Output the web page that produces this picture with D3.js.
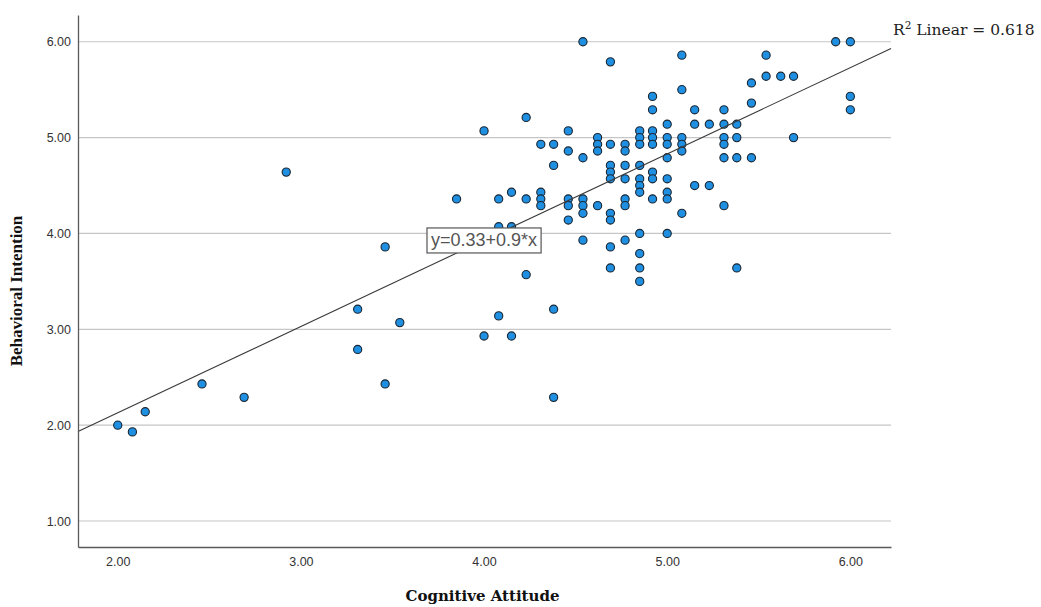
<!DOCTYPE html>
<html lang="en">
<head>
<meta charset="utf-8">
<title>Cognitive Attitude vs Behavioral Intention</title>
<script src="https://cdn.jsdelivr.net/npm/d3@7"></script>
<style>
  body { margin: 0; background: #fff; }
  .tick-label { font-family: "Liberation Sans", Arial, sans-serif; font-size: 12.5px; fill: #333; }
  .axis-title { font-weight: bold; fill: #111; }
</style>
</head>
<body>
<div id="chart"></div>
<script>

  // Cognitive Attitude (x) and Behavioral Intention (y), one entry per respondent
  var attitude = [
    2.00, 2.08, 2.15, 2.46, 2.69, 2.92,
    3.31, 3.31, 3.46, 3.46, 3.54, 3.85,
    4.00, 4.00,
    4.08, 4.08, 4.08,
    4.15, 4.15, 4.15,
    4.23, 4.23, 4.23,
    4.31, 4.31, 4.31, 4.31,
    4.38, 4.38, 4.38, 4.38,
    4.46, 4.46, 4.46, 4.46, 4.46,
    4.54, 4.54, 4.54, 4.54, 4.54, 4.54,
    4.62, 4.62, 4.62, 4.62,
    4.69, 4.69, 4.69, 4.69, 4.69, 4.69, 4.69, 4.69, 4.69,
    4.77, 4.77, 4.77, 4.77, 4.77, 4.77, 4.77,
    4.85, 4.85, 4.85, 4.85, 4.85, 4.85, 4.85, 4.85, 4.85, 4.85, 4.85,
    4.92, 4.92, 4.92, 4.92, 4.92, 4.92, 4.92, 4.92,
    5.00, 5.00, 5.00, 5.00, 5.00, 5.00, 5.00, 5.00,
    5.08, 5.08, 5.08, 5.08, 5.08, 5.08,
    5.15, 5.15, 5.15,
    5.23, 5.23,
    5.31, 5.31, 5.31, 5.31, 5.31, 5.31,
    5.38, 5.38, 5.38, 5.38,
    5.46, 5.46, 5.46,
    5.54, 5.54,
    5.62,
    5.69, 5.69,
    5.92,
    6.00, 6.00, 6.00
  ];

  var intention = [
    2.00, 1.93, 2.14, 2.43, 2.29, 4.64,
    3.21, 2.79, 3.86, 2.43, 3.07, 4.36,
    5.07, 2.93,
    4.36, 4.07, 3.14,
    4.43, 4.07, 2.93,
    5.21, 4.36, 3.57,
    4.93, 4.43, 4.36, 4.29,
    4.93, 4.71, 3.21, 2.29,
    5.07, 4.86, 4.36, 4.29, 4.14,
    6.00, 4.79, 4.36, 4.29, 4.21, 3.93,
    5.00, 4.93, 4.86, 4.29,
    5.79, 4.93, 4.71, 4.64, 4.57, 4.21, 4.14, 3.86, 3.64,
    4.93, 4.86, 4.71, 4.57, 4.36, 4.29, 3.93,
    5.07, 5.00, 4.93, 4.71, 4.57, 4.50, 4.43, 4.00, 3.79, 3.64, 3.50,
    5.43, 5.29, 5.07, 5.00, 4.93, 4.64, 4.57, 4.36,
    5.14, 5.00, 4.93, 4.79, 4.57, 4.43, 4.36, 4.00,
    5.86, 5.50, 5.00, 4.93, 4.86, 4.21,
    5.29, 5.14, 4.50,
    5.14, 4.50,
    5.29, 5.14, 5.00, 4.93, 4.79, 4.29,
    5.14, 5.00, 4.79, 3.64,
    5.57, 5.36, 4.79,
    5.86, 5.64,
    5.64,
    5.64, 5.00,
    6.00,
    6.00, 5.43, 5.29
  ];

  var xTicks = [2, 3, 4, 5, 6];
  var yTicks = [1, 2, 3, 4, 5, 6];

  // linear fit as reported
  var fitIntercept = 0.33,
      fitSlope     = 0.9,
      rSquared     = 0.618;

  var xTitle = "Cognitive Attitude",
      yTitle = "Behavioral Intention";

  var points = attitude.map(function(x, i) { return {x: x, y: intention[i]}; });

  /*
   * Frame
   */

  var w = 1041,
      h = 607;

  var svg = d3.select("#chart")
      .append("svg")
      .attr("width", w)
      .attr("height", h)
      .style("display", "block");

  svg.append("rect").attr("width", w).attr("height", h).attr("fill", "#fff");

  var xScale = d3.scaleLinear().domain([1.783, 6.222]).range([78, 891]);
  var yScale = d3.scaleLinear().domain([0.729, 6.279]).range([547, 15]);

  var fmt = d3.format(".2f");
  function fit(x) { return fitIntercept + fitSlope * x; }

  // horizontal grid
  svg.append("g")
    .selectAll("line")
    .data(yTicks)
    .enter().append("line")
      .attr("x1", xScale.range()[0])
      .attr("x2", xScale.range()[1])
      .attr("y1", function(d) { return yScale(d); })
      .attr("y2", function(d) { return yScale(d); })
      .attr("stroke", "#c6c6c6")
      .attr("stroke-width", 1.2);

  // points
  svg.append("g")
    .selectAll("circle")
    .data(points)
    .enter().append("circle")
      .attr("cx", function(d) { return xScale(d.x); })
      .attr("cy", function(d) { return yScale(d.y); })
      .attr("r", 4.1)
      .attr("fill", "#1f8fe2")
      .attr("stroke", "#1b2631")
      .attr("stroke-width", 1.1);

  // fit line across the whole x range
  var xd = xScale.domain();
  svg.append("line")
    .attr("x1", xScale(xd[0]))
    .attr("y1", yScale(fit(xd[0])))
    .attr("x2", xScale(xd[1]))
    .attr("y2", yScale(fit(xd[1])))
    .attr("stroke", "#3a3a3a")
    .attr("stroke-width", 1.1);

  // axes (no tick marks, only lines and labels)
  var xAxis = d3.axisBottom(xScale).tickValues(xTicks).tickFormat(fmt).tickSize(0).tickPadding(10);
  var yAxis = d3.axisLeft(yScale).tickValues(yTicks).tickFormat(fmt).tickSize(0).tickPadding(7);

  var gX = svg.append("g").attr("transform", "translate(0," + yScale.range()[0] + ")").call(xAxis);
  var gY = svg.append("g").attr("transform", "translate(" + xScale.range()[0] + ",0)").call(yAxis);

  [gX, gY].forEach(function(g) {
    g.select(".domain").attr("stroke", "#5a5a5a").attr("stroke-width", 1.3);
    g.selectAll("text").attr("class", "tick-label").attr("font-family", null).attr("font-size", null);
  });

  // equation label box, centred on the line at x = 4
  var eqX = 4.0;
  var eq = svg.append("text")
    .attr("x", xScale(eqX))
    .attr("y", yScale(fit(eqX)))
    .attr("dy", "0.35em")
    .attr("text-anchor", "middle")
    .attr("font-family", "Liberation Sans, Arial, sans-serif")
    .attr("font-size", 18)
    .attr("fill", "#555")
    .text("y=" + fitIntercept + "+" + fitSlope + "*x");

  var bb = eq.node().getBBox();
  svg.insert("rect", function() { return eq.node(); })
    .attr("x", bb.x - 4)
    .attr("y", bb.y - 2.5)
    .attr("width", bb.width + 8)
    .attr("height", bb.height + 5)
    .attr("fill", "#fff")
    .attr("stroke", "#555")
    .attr("stroke-width", 1.2);

  // R squared note at the end of the line
  var r2 = svg.append("text")
    .attr("x", xScale.range()[1] + 2)
    .attr("y", 35)
    .attr("font-family", "DejaVu Serif, serif")
    .attr("font-size", 15.5)
    .attr("fill", "#222");
  r2.append("tspan").text("R");
  r2.append("tspan").attr("font-size", 10.5).attr("dy", -6.5).text("2");
  r2.append("tspan").attr("dy", 6.5).text(" Linear = " + rSquared);

  // axis titles
  svg.append("text")
    .attr("class", "axis-title")
    .attr("x", d3.mean(xScale.range()) - 2)
    .attr("y", 601)
    .attr("text-anchor", "middle")
    .attr("font-family", "DejaVu Serif, serif")
    .attr("font-size", 15)
    .text(xTitle);

  svg.append("text")
    .attr("class", "axis-title")
    .attr("transform", "translate(22," + (d3.mean(yScale.range()) + 10) + ") rotate(-90)")
    .attr("text-anchor", "middle")
    .attr("font-family", "Liberation Serif, Times New Roman, serif")
    .attr("font-size", 17)
    .text(yTitle);

</script>
</body>
</html>
